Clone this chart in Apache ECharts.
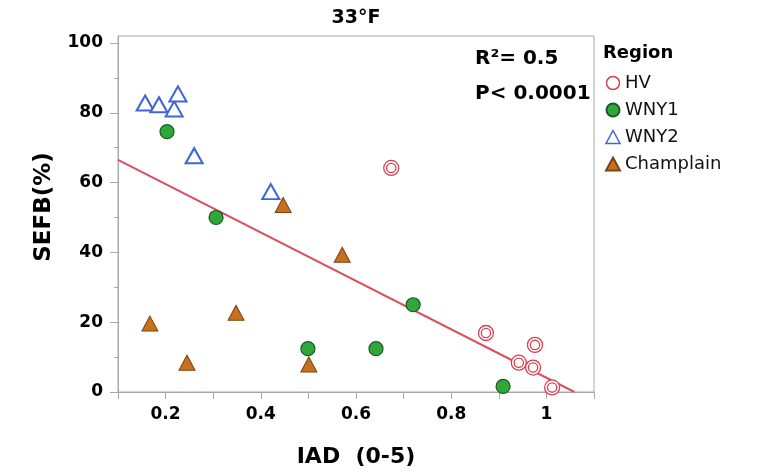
<!DOCTYPE html>
<html>
<head>
<meta charset="utf-8">
<script src="https://cdn.jsdelivr.net/npm/echarts@6/dist/echarts.min.js"></script>
<style>
html,body{margin:0;padding:0;background:#fff;}
#chart{width:757px;height:473px;}
</style>
</head>
<body>
<div id="chart"></div>
<script>
var titleText = '33°F';
var xName = 'IAD  (0-5)';
var yName = 'SEFB(%)';
var legendTitle = 'Region';
var seriesNames = ['HV', 'WNY1', 'WNY2', 'Champlain'];

var hvX = [0.674, 0.873, 0.976, 0.942, 0.972, 1.012];
var hvY = [64.2, 16.9, 13.5, 8.4, 7.0, 1.3];

var wny1X = [0.203, 0.306, 0.720, 0.642, 0.909, 0.499];
var wny1Y = [74.6, 50.0, 25.0, 12.4, 1.6, 12.4];

var wny2X = [0.157, 0.186, 0.218, 0.226, 0.260, 0.421];
var wny2Y = [82.8, 82.3, 81.1, 85.4, 67.7, 57.4];

var champX = [0.167, 0.245, 0.348, 0.447, 0.571, 0.501];
var champY = [19.6, 8.4, 22.7, 53.6, 39.3, 7.9];

var fitX = [0.1, 1.059];
var fitY = [66.5, 0];

var yTickLabels = [0, 20, 40, 60, 80, 100];
var xTickLabels = [0.2, 0.4, 0.6, 0.8, 1];

var annot1 = 'R²= 0.5';
var annot2 = 'P< 0.0001';

function pairs(xs, ys){ return xs.map(function(x,i){ return [x, ys[i]]; }); }

var FONT = '"DejaVu Sans", sans-serif';
var doubleRing = 'path://M-1,0A1,1,0,1,0,1,0A1,1,0,1,0,-1,0ZM-0.62,0A0.62,0.62,0,1,0,0.62,0A0.62,0.62,0,1,0,-0.62,0Z';
var chart = echarts.init(document.getElementById('chart'), null, {renderer:'canvas'});

var option = {
  backgroundColor: '#fff',
  animation: false,
  textStyle: {fontFamily: FONT},
  title: {
    text: titleText, left: 351, top: 4, textAlign: 'center',
    textStyle: {fontFamily: FONT, fontSize: 19, fontWeight: 'bold', color: '#000'}
  },
  grid: {left: 118, top: 36, width: 476, height: 358, show: true, borderColor: '#a8a8a8', borderWidth: 1, backgroundColor: '#fff'},
  legend: {
    orient: 'vertical', left: 600, top: 69, itemWidth: 14, itemHeight: 13, itemGap: 9, itemTextGap: 10,
    data: [
      {name: seriesNames[0], icon: 'circle', itemStyle: {color: '#fff', borderColor: '#d6404f', borderWidth: 1.5}},
      {name: seriesNames[1]},
      {name: seriesNames[2], itemStyle: {borderWidth: 1.5}},
      {name: seriesNames[3]}
    ],
    textStyle: {fontFamily: FONT, fontSize: 18, color: '#111'}
  },
  xAxis: {
    type: 'value', min: 0.1, max: 1.1, interval: 0.1,
    name: xName, nameLocation: 'middle', nameGap: 54,
    nameTextStyle: {fontFamily: FONT, fontSize: 22, fontWeight: 'bold', color: '#000'},
    axisLine: {show: true, lineStyle: {color: '#a8a8a8'}},
    axisTick: {show: true, length: 7, lineStyle: {color: '#a8a8a8'}},
    splitLine: {show: false},
    axisLabel: {
      margin: 14, fontFamily: FONT, fontSize: 17, fontWeight: 'bold', color: '#000',
      formatter: function(v){
        var k = Math.round(v*10);
        for (var i=0;i<xTickLabels.length;i++){ if (Math.round(xTickLabels[i]*10)===k) return String(xTickLabels[i]); }
        return '';
      }
    }
  },
  yAxis: {
    type: 'value', min: 0, max: 102, interval: 20,
    name: yName, nameLocation: 'middle', nameGap: 62, nameRotate: 90,
    nameTextStyle: {fontFamily: FONT, fontSize: 23, fontWeight: 'bold', color: '#000', padding: [0, 0, 0, 14]},
    axisLine: {show: true, lineStyle: {color: '#a8a8a8'}},
    axisTick: {show: true, length: 8, customValues: yTickLabels, lineStyle: {color: '#a8a8a8'}},
    minorTick: {show: true, splitNumber: 2, length: 4, lineStyle: {color: '#a8a8a8'}},
    splitLine: {show: false},
    axisLabel: {
      margin: 15, customValues: yTickLabels, fontFamily: FONT, fontSize: 17, fontWeight: 'bold', color: '#000'
    }
  },
  graphic: [
    {type: 'text', left: 603, top: 44, style: {text: legendTitle, font: 'bold 18px ' + FONT, fill: '#000'}},
    {type: 'text', left: 475, top: 49, style: {text: annot1, font: 'bold 20px ' + FONT, fill: '#000'}},
    {type: 'text', left: 475, top: 84, style: {text: annot2, font: 'bold 20px ' + FONT, fill: '#000'}}
  ],
  series: [
    {
      name: 'fit', type: 'line', data: pairs(fitX, fitY), symbol: 'none', clip: true,
      lineStyle: {color: '#d9505f', width: 2}, z: 1, silent: true
    },
    {
      name: 'HV', type: 'scatter', data: pairs(hvX, hvY), symbol: doubleRing, symbolSize: 15,
      itemStyle: {color: '#ffffff', borderColor: '#d6404f', borderWidth: 1.3, opacity: 1}, z: 3
    },
    {
      name: 'WNY1', type: 'scatter', data: pairs(wny1X, wny1Y), symbol: 'circle', symbolSize: 14,
      itemStyle: {color: '#2ea83a', borderColor: '#1c5a20', borderWidth: 1.2, opacity: 1}, z: 3
    },
    {
      name: 'WNY2', type: 'scatter', data: pairs(wny2X, wny2Y), symbol: 'triangle', symbolSize: [17, 15],
      itemStyle: {color: '#ffffff', borderColor: '#3f67d2', borderWidth: 2, opacity: 1}, z: 3
    },
    {
      name: 'Champlain', type: 'scatter', data: pairs(champX, champY), symbol: 'triangle', symbolSize: [16, 15],
      itemStyle: {color: '#c8701e', borderColor: '#7a4512', borderWidth: 1, opacity: 1}, z: 3
    }
  ]
};
chart.setOption(option);
</script>
</body>
</html>
